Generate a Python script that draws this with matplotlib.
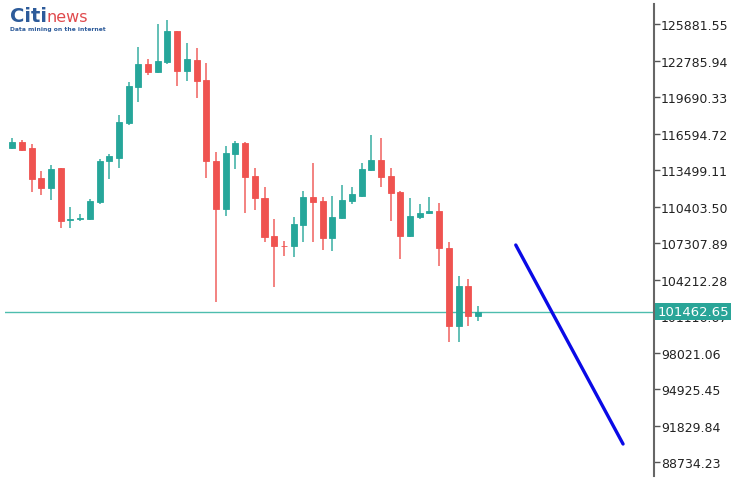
import numpy as np
import matplotlib.pyplot as plt

# candle data (open, high, low, close)
opens = [115366, 115874, 115366, 112821, 111973, 113669, 109259, 109344, 109344, 110786,
         114263, 114517, 117486, 120539, 122490, 121811, 122659, 125288, 121896, 122829,
         121133, 114263, 110192, 114857, 115790, 112991, 111125, 107902, 107080, 107054,
         108835, 111210, 110871, 107732, 109429, 110871, 111295, 113500, 114348, 112991,
         111634, 107902, 109513, 109853, 110022, 106885, 100269, 103662, 101150]
highs = [116214, 116044, 115705, 113415, 113924, 113700, 110362, 109768, 111040, 114433,
         114857, 118164, 120963, 123931, 122913, 125882, 126221, 125320, 124271, 123847,
         122574, 115026, 115535, 115959, 115875, 113669, 112058, 109344, 107478, 109513,
         111719, 114093, 111210, 111295, 112228, 112058, 114093, 116468, 116214, 113669,
         111680, 111125, 110616, 111210, 110701, 107393, 104510, 104256, 101966]
lows = [115281, 115111, 111634, 111379, 110955, 108581, 108581, 109174, 109259, 110616,
        112736, 113669, 117316, 119267, 121556, 121750, 122490, 120624, 121048, 119606,
        112821, 102305, 109598, 113584, 109853, 110107, 107393, 103577, 106206, 106121,
        107393, 107393, 106715, 106630, 109344, 110616, 111200, 113450, 112058, 109174,
        105952, 107850, 109344, 109768, 105358, 98912, 98912, 100269, 100694]
closes = [115874, 115196, 112736, 111973, 113584, 109174, 109344, 109429, 110871, 114263,
          114687, 117571, 120624, 122490, 121811, 122744, 125288, 121896, 122913, 121048,
          114263, 110192, 114942, 115790, 112906, 111125, 107817, 107054, 107030, 108920,
          111210, 110786, 107732, 109513, 110955, 111464, 113584, 114348, 112906, 111549,
          107902, 109598, 109853, 110022, 106885, 100269, 103662, 101117, 101463]

# right axis tick labels
tick_values = [125881.55, 122785.94, 119690.33, 116594.72, 113499.11, 110403.50, 107307.89,
               104212.28, 101116.67, 98021.06, 94925.45, 91829.84, 88734.23]
current_price = 101462.65

# hand drawn forecast line (bar index, price)
arrow_x = [51.9, 62.96]
arrow_y = [107139, 90262]

GREEN = '#26a69a'
RED = '#ef5350'

fig = plt.figure(figsize=(7.53, 4.85), dpi=100)
ax = fig.add_axes([5 / 753, 8 / 485, 649 / 753, 472 / 485])

x = np.arange(len(opens))
o = np.array(opens)
h = np.array(highs)
l = np.array(lows)
c = np.array(closes)
colors = [GREEN if cc >= oo else RED for oo, cc in zip(o, c)]
colors[28] = RED  # tiny doji looks red

# wicks then bodies
ax.vlines(x, l, h, colors=colors, linewidth=1.2, alpha=0.85, zorder=2)
bottom = np.minimum(o, c)
height = np.maximum(np.abs(c - o), 40)
ax.bar(x, height, bottom=bottom, width=0.62, color=colors, edgecolor=colors,
       linewidth=0.6, zorder=3)

# current price line
ax.axhline(current_price, color='#4dbdae', linewidth=1.0, zorder=1)

# forecast line
ax.plot(arrow_x, arrow_y, color='#0a0ae6', linewidth=2.4, solid_capstyle='round', zorder=4)

ax.set_xlim(-0.75, 66.15)
ax.set_ylim(87548, 127578)

# axis on the right only
ax.yaxis.tick_right()
ax.set_yticks(tick_values)
ax.set_yticklabels([f'{v:.2f}' for v in tick_values])
ax.tick_params(axis='y', direction='out', length=4, width=1, color='#555555',
               labelsize=9, labelcolor='#222222', pad=1)
ax.set_xticks([])
for side in ['top', 'bottom', 'left']:
    ax.spines[side].set_visible(False)
ax.spines['right'].set_color('#666666')
ax.spines['right'].set_linewidth(1.5)

# current price tag
ax.text(1.005, current_price, f'{current_price:.2f}', transform=ax.get_yaxis_transform(),
        ha='left', va='center', fontsize=9.5, color='white', zorder=10, clip_on=False,
        bbox=dict(boxstyle='square,pad=0.15', facecolor='#2aa598', edgecolor='none'))

# logo
fig.text(10 / 753, 1 - 17 / 485, 'Citi', fontsize=14, fontweight='bold', color='#2d5b9a',
         va='center', ha='left')
fig.text(47 / 753, 1 - 17 / 485, 'news', fontsize=11.5, color='#e04a4d',
         va='center', ha='left')
fig.text(10 / 753, 1 - 29 / 485, 'Data mining on the internet', fontsize=4.3,
         color='#2d5b9a', va='center', ha='left', fontweight='bold')

fig.savefig('out.png', dpi=100)
